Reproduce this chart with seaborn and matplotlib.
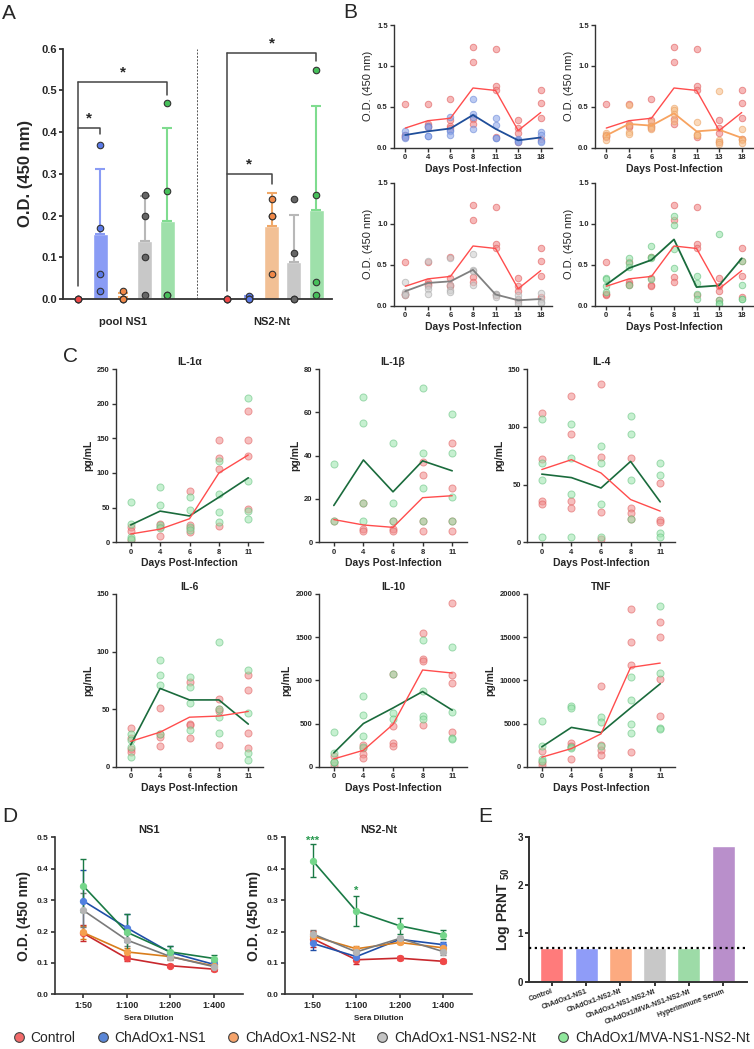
import numpy as np
import pandas as pd
import matplotlib
matplotlib.use('Agg')
import matplotlib.pyplot as plt
from matplotlib.lines import Line2D
import seaborn as sns

sns.set_style('ticks')
plt.rcParams['font.family'] = ['Liberation Sans', 'DejaVu Sans']
plt.rcParams['mathtext.default'] = 'regular'

W, H = 754, 1049

# ---------------- data: panel A (ELISA per antigen, individual mice) ----------------
a_groups = ['pool NS1', 'NS2-Nt']
a_pool_ns1 = [[0, 0, 0, 0], [0.37, 0.17, 0.06, 0.02], [0.02, 0, 0, 0],
              [0.25, 0.20, 0.10, 0.01], [0.47, 0.26, 0.01, 0.01]]
a_ns2_nt = [[0, 0, 0, 0], [0.008, 0, 0, 0], [0.24, 0.20, 0.20, 0.06],
            [0.24, 0.11, 0, 0], [0.55, 0.25, 0.04, 0.01]]
# (group, target bar, bracket height, drop end)
a_sig = [(0, 1, 0.41, 0.395), (0, 4, 0.52, 0.49), (1, 2, 0.30, 0.275), (1, 4, 0.59, 0.57)]

# ---------------- data: panel B (kinetics) ----------------
b_days = ['0', '4', '6', '8', '11', '13', '18']
b_control = [[0.53, 0.15, 0.14, 0.13], [0.53, 0.29, 0.27, 0.25], [0.60, 0.34, 0.26, 0.24],
             [1.23, 1.05, 0.35, 0.29], [1.21, 0.75, 0.70, 0.13], [0.34, 0.24, 0.18, 0.07],
             [0.70, 0.55, 0.36, 0.11]]
b_control_mean = [0.24, 0.33, 0.36, 0.73, 0.70, 0.21, 0.43]
b_ns1 = [[0.21, 0.16, 0.13, 0.12], [0.27, 0.25, 0.14, 0.14], [0.37, 0.22, 0.20, 0.15],
         [0.60, 0.41, 0.38, 0.23], [0.36, 0.28, 0.12, 0.12], [0.11, 0.09, 0.08, 0.07],
         [0.19, 0.16, 0.08, 0.07]]
b_ns1_mean = [0.155, 0.20, 0.235, 0.40, 0.23, 0.09, 0.125]
b_ns2 = [[0.18, 0.16, 0.14, 0.10], [0.52, 0.28, 0.19, 0.17], [0.31, 0.27, 0.25, 0.23],
         [0.49, 0.46, 0.41, 0.33], [0.31, 0.17, 0.16, 0.15], [0.69, 0.10, 0.07, 0.05],
         [0.23, 0.11, 0.09, 0.06]]
b_ns2_mean = [0.15, 0.29, 0.27, 0.42, 0.20, 0.22, 0.12]
b_ns12 = [[0.29, 0.17, 0.15, 0.13], [0.55, 0.24, 0.21, 0.14], [0.58, 0.25, 0.20, 0.17],
          [0.63, 0.44, 0.43, 0.26], [0.15, 0.14, 0.13, 0.11], [0.13, 0.08, 0.05, 0.03],
          [0.16, 0.09, 0.05, 0.04]]
b_ns12_mean = [0.18, 0.28, 0.30, 0.44, 0.14, 0.07, 0.085]
b_mva = [[0.34, 0.33, 0.24, 0.17], [0.59, 0.52, 0.47, 0.25], [0.73, 0.60, 0.58, 0.33],
         [1.09, 0.99, 0.69, 0.46], [0.36, 0.28, 0.15, 0.09], [0.87, 0.07, 0.04, 0.03],
         [0.55, 0.25, 0.09, 0.08]]
b_mva_mean = [0.26, 0.46, 0.56, 0.81, 0.23, 0.25, 0.58]

# ---------------- data: panel C (cytokines, control vs MVA) ----------------
c_days = ['0', '4', '6', '8', '11']
c_names = ['IL-1α', 'IL-1β', 'IL-4', 'IL-6', 'IL-10', 'TNF']
c_ymax = [250, 80, 150, 150, 2000, 20000]
c_ystep = [50, 20, 50, 50, 500, 5000]
c_red = [
    [[22, 17, 3], [26, 22, 9], [74, 25, 20, 15], [147, 121, 106, 23], [189, 148, 125, 48]],
    [[10], [18, 6, 5], [10, 6, 5], [37, 31, 10, 5], [46, 25, 10, 5]],
    [[112, 72, 36, 33], [127, 94, 36, 30], [137, 74, 26, 3], [73, 30, 25, 20], [51, 19, 18]],
    [[34, 25, 15, 13], [51, 28, 26, 18], [74, 37, 36, 25], [59, 50, 48, 19], [80, 67, 29, 16]],
    [[120, 50, 20], [250, 220, 150, 100], [1070, 470, 280, 240], [1550, 1250, 1220, 480],
     [1890, 1060, 970, 400]],
    [[1800, 500, 200], [2700, 2400, 900], [9400, 2500, 1900, 1400], [18300, 14400, 11800, 1700],
     [16800, 15000, 10200, 5900]],
]
c_red_mean = [[12, 19, 34, 100, 126], [10.5, 8, 6.9, 20.6, 21.5], [63, 71.5, 60, 37, 27],
              [22, 30, 43, 44, 48], [90, 190, 490, 1120, 1085], [1100, 2100, 3800, 11500, 12000]]
c_green = [
    [[58, 27, 8, 5], [80, 54, 25, 20], [65, 47, 22, 18], [118, 70, 43, 29], [208, 88, 45, 34]],
    [[36, 10], [67, 55, 18, 10], [46, 18, 10], [71, 41, 25, 10], [59, 41, 21, 10]],
    [[107, 69, 54, 5], [102, 73, 42, 5], [83, 69, 33, 5], [109, 94, 54, 20], [69, 58, 8, 5]],
    [[28, 23, 17, 8], [93, 80, 71, 28], [78, 69, 55, 32], [108, 50, 43, 29], [84, 47, 12, 6]],
    [[400, 160, 60, 50], [820, 600, 350, 230], [1070, 620, 550], [1470, 880, 590, 550],
     [1390, 630, 330, 320]],
    [[5250, 2400, 900, 700], [7000, 6800, 2300, 2200], [5800, 5200, 2400],
     [10400, 7700, 5000, 3900], [18600, 10800, 4500, 4400]],
]
c_green_mean = [[25, 45, 38, 65, 93], [17, 38, 23.3, 37.6, 33], [59, 56, 47, 70, 35],
                [19, 68, 58, 58, 37], [160, 500, 680, 870, 655], [2300, 4550, 3950, 6800, 9600]]

# ---------------- data: panel D (sera dilution) ----------------
d_dilutions = ['1:50', '1:100', '1:200', '1:400']
d_ns1_mean = {'Control': [0.195, 0.115, 0.091, 0.080], 'NS1': [0.298, 0.212, 0.133, 0.095],
              'NS2': [0.197, 0.135, 0.120, 0.090], 'NS12': [0.268, 0.173, 0.120, 0.088],
              'MVA': [0.346, 0.198, 0.135, 0.114]}
d_ns1_err = {'Control': [0.025, 0.010, 0.004, 0.005], 'NS1': [0.097, 0.044, 0.022, 0.010],
             'NS2': [0.022, 0.012, 0.006, 0.006], 'NS12': [0.055, 0.020, 0.010, 0.010],
             'MVA': [0.085, 0.058, 0.018, 0.012]}
d_ns2_mean = {'Control': [0.177, 0.110, 0.115, 0.105], 'NS1': [0.162, 0.120, 0.175, 0.158],
              'NS2': [0.185, 0.145, 0.165, 0.148], 'NS12': [0.192, 0.135, 0.178, 0.136],
              'MVA': [0.425, 0.265, 0.218, 0.190]}
d_ns2_err = {'Control': [0.025, 0.015, 0.006, 0.006], 'NS1': [0.020, 0.010, 0.006, 0.010],
             'NS2': [0.015, 0.010, 0.006, 0.008], 'NS12': [0.012, 0.010, 0.006, 0.010],
             'MVA': [0.053, 0.048, 0.025, 0.015]}

# ---------------- data: panel E (PRNT) ----------------
e_labels = ['Control', 'ChAdOx1-NS1', 'ChAdOx1-NS2-Nt', 'ChAdOx1-NS1-NS2-Nt',
            'ChAdOx1/MVA-NS1-NS2-Nt', 'Hyperimmune Serum']
e_values = [0.69, 0.69, 0.69, 0.69, 0.69, 2.80]
e_limit = 0.69

legend_labels = ['Control', 'ChAdOx1-NS1', 'ChAdOx1-NS2-Nt', 'ChAdOx1-NS1-NS2-Nt',
                 'ChAdOx1/MVA-NS1-NS2-Nt']

# ---------------- colours ----------------
a_bar_col = ['#f3a0a0', '#8a9cf5', '#f2c095', '#c8c8c8', '#9ee0aa']
a_err_col = ['#f3a0a0', '#8a9cf5', '#f0a868', '#b8b8b8', '#7fdc8f']
a_pt_col = ['#f04848', '#5a7ae8', '#f08848', '#666666', '#46c05a']
scat = {'Control': ('#f08a8a', '#e05a5a', '#ff4d4d'),
        'NS1': ('#8fa8ea', '#6a88d8', '#1f4e9a'),
        'NS2': ('#f7c08c', '#eaa060', '#f7a360'),
        'NS12': ('#cfcfcf', '#aaaaaa', '#808080'),
        'MVA': ('#98e4aa', '#62c07c', '#1a6b3c')}
d_col = {'Control': ('#c8282d', '#f04848'), 'NS1': ('#1f4fa8', '#5080e0'),
         'NS2': ('#d97d1c', '#f5a04e'), 'NS12': ('#7a7a7a', '#b5b5b5'),
         'MVA': ('#1a7a45', '#74d68a')}
e_col = ['#ff7b7b', '#8f9cf8', '#fcaa80', '#c8c8c8', '#9ddba7', '#b98fcb']
leg_col = ['#f26a6a', '#5a86d6', '#f5a36a', '#c4c4c4', '#8fe79c']


def rect(x0, y0, x1, y1):
    return [x0 / W, 1 - y1 / H, (x1 - x0) / W, (y1 - y0) / H]


def style(ax, lw=1.0, color='#333333', size=5.5):
    sns.despine(ax=ax)
    for s in ['left', 'bottom']:
        ax.spines[s].set_linewidth(lw)
        ax.spines[s].set_color(color)
    ax.tick_params(width=lw, color=color, length=3, pad=1.5, labelsize=size)
    for t in ax.get_xticklabels() + ax.get_yticklabels():
        t.set_fontweight('bold')


def long_df(points):
    rows = [(i, v) for i, vals in enumerate(points) for v in vals]
    return pd.DataFrame(rows, columns=['pos', 'value'])


fig = plt.figure(figsize=(W / 100, H / 100), dpi=100)

# ================= Panel A =================
ax = fig.add_axes(rect(63, 48.7, 332, 299))
gap = 6.68
for g, data in enumerate([a_pool_ns1, a_ns2_nt]):
    for i, vals in enumerate(data):
        x = i + g * gap
        m, sd = np.mean(vals), np.std(vals, ddof=1)
        ax.bar(x, m, width=0.67, color=a_bar_col[i], zorder=1)
        if m > 0.001:
            ax.errorbar(x, m, yerr=[[0], [sd]], fmt='none', ecolor=a_err_col[i],
                        capsize=3.5, elinewidth=1.5, capthick=1.5, zorder=2)
        df = pd.DataFrame({'x': [x] * len(vals), 'y': vals})
        sns.scatterplot(data=df, x='x', y='y', ax=ax, color=a_pt_col[i], s=22,
                        edgecolor='#333333', linewidth=0.8, zorder=3, clip_on=False, legend=False)
for g, tgt, h, drop in a_sig:
    x0, x1 = g * gap, tgt + g * gap
    ax.plot([x0, x1, x1], [h, h, drop], color='#444444', lw=1.1)
    ax.text((x0 + x1) / 2, h + 0.022, '*', ha='center', va='center', fontsize=11, fontweight='bold')
for g in range(2):
    top = max(h for gg, _, h, _ in a_sig if gg == g)
    ax.plot([g * gap, g * gap], [0.03 if g == 0 else 0.02, top], color='#444444', lw=1.1)
ax.axvline((4 + gap) / 2, color='#555555', ls=(0, (2, 1.5)), lw=0.7)
ax.set_xlim(-0.67, 11.39)
ax.set_ylim(0, 0.6)
ax.set_yticks(np.arange(0, 0.61, 0.1))
ax.set_yticklabels([f'{v:.1f}' for v in np.arange(0, 0.61, 0.1)])
ax.set_xticks([2, 2 + gap])
ax.set_xticklabels(a_groups)
ax.set_xlabel('')
ax.set_ylabel('O.D. (450 nm)', fontsize=12, fontweight='bold', labelpad=6)
style(ax, lw=1.3, size=8)
ax.tick_params(axis='x', length=0, pad=13, labelsize=8)

# ================= Panel B =================
b_rects = [rect(394, 25, 552, 147.7), rect(595, 25, 753, 147.7),
           rect(394, 182.7, 552, 306), rect(595, 182.7, 753, 306)]
b_sets = [('NS1', b_ns1, b_ns1_mean), ('NS2', b_ns2, b_ns2_mean),
          ('NS12', b_ns12, b_ns12_mean), ('MVA', b_mva, b_mva_mean)]
for r, (key, pts, mean) in zip(b_rects, b_sets):
    ax = fig.add_axes(r)
    for k, p in [('Control', b_control), (key, pts)]:
        face, edge, _ = scat[k]
        sns.scatterplot(data=long_df(p), x='pos', y='value', ax=ax, color=face, edgecolor=edge,
                        alpha=0.6, s=22, linewidth=0.7, legend=False, zorder=2)
    pos = list(range(len(b_days)))
    sns.lineplot(x=pos, y=mean, ax=ax, color=scat[key][2], lw=1.3, zorder=3)
    sns.lineplot(x=pos, y=b_control_mean, ax=ax, color=scat['Control'][2], lw=1.0, zorder=4)
    ax.set_xlim(-0.5, 6.5)
    ax.set_ylim(0, 1.5)
    ax.set_xticks(pos)
    ax.set_xticklabels(b_days)
    ax.set_yticks([0, 0.5, 1.0, 1.5])
    ax.set_yticklabels(['0.0', '0.5', '1.0', '1.5'])
    ax.set_xlabel('Days Post-Infection', fontsize=7.5, fontweight='bold', labelpad=2)
    ax.set_ylabel('O.D. (450 nm)', fontsize=8, labelpad=3)
    style(ax, lw=1.0, size=5.5)

# ================= Panel C =================
c_cols = [(116, 263), (319, 467), (527, 675)]
c_rows = [(369, 542.3), (594, 766.7)]
for n in range(6):
    x0, x1 = c_cols[n % 3]
    y0, y1 = c_rows[n // 3]
    ax = fig.add_axes(rect(x0, y0, x1, y1))
    for key, pts in [('Control', c_red[n]), ('MVA', c_green[n])]:
        face, edge, _ = scat[key]
        sns.scatterplot(data=long_df(pts), x='pos', y='value', ax=ax, color=face, edgecolor=edge,
                        alpha=0.55, s=26, linewidth=0.7, legend=False, zorder=2)
    pos = list(range(len(c_days)))
    sns.lineplot(x=pos, y=c_green_mean[n], ax=ax, color=scat['MVA'][2], lw=1.2, zorder=3)
    sns.lineplot(x=pos, y=c_red_mean[n], ax=ax, color=scat['Control'][2], lw=1.0, zorder=4)
    ax.set_xlim(-0.5, 4.5)
    ax.set_ylim(0, c_ymax[n])
    ax.set_yticks(np.arange(0, c_ymax[n] + 1, c_ystep[n]))
    ax.set_xticks(pos)
    ax.set_xticklabels(c_days)
    ax.set_title(c_names[n], fontsize=7.5, fontweight='bold', pad=3)
    ax.set_xlabel('Days Post-Infection', fontsize=7.5, fontweight='bold', labelpad=2)
    ax.set_ylabel('pg/mL', fontsize=7.5, fontweight='bold', labelpad=3)
    style(ax, lw=1.0, size=5.5)

# ================= Panel D =================
d_specs = [('NS1', rect(55, 837.3, 243, 994.3), d_ns1_mean, d_ns1_err),
           ('NS2-Nt', rect(285, 837.3, 472, 994.3), d_ns2_mean, d_ns2_err)]
for title, r, means, errs in d_specs:
    ax = fig.add_axes(r)
    pos = list(range(len(d_dilutions)))
    for key in ['Control', 'NS1', 'NS2', 'NS12', 'MVA']:
        lc, mc = d_col[key]
        ax.errorbar(pos, means[key], yerr=errs[key], fmt='none', ecolor=lc, capsize=2.5,
                    elinewidth=1.0, capthick=1.0, zorder=2)
        sns.lineplot(x=pos, y=means[key], ax=ax, color=lc, lw=1.2, marker='o', markersize=4.5,
                     markerfacecolor=mc, markeredgecolor=mc, zorder=3)
    if title == 'NS2-Nt':
        ax.text(0, 0.488, '***', ha='center', va='center', color='#2a9a50', fontsize=8,
                fontweight='bold')
        ax.text(1, 0.328, '*', ha='center', va='center', color='#2a9a50', fontsize=8,
                fontweight='bold')
    ax.set_xlim(-0.64, 3.66)
    ax.set_ylim(0, 0.5)
    ax.set_yticks(np.arange(0, 0.51, 0.1))
    ax.set_yticklabels([f'{v:.1f}' for v in np.arange(0, 0.51, 0.1)])
    ax.set_xticks(pos)
    ax.set_xticklabels(d_dilutions)
    ax.set_title(title, fontsize=8, fontweight='bold', pad=3)
    ax.set_xlabel('Sera Dilution', fontsize=5.8, fontweight='bold', labelpad=4)
    ax.set_ylabel('O.D. (450 nm)', fontsize=10, fontweight='bold', labelpad=4)
    style(ax, lw=1.2, size=6.5)
    ax.tick_params(axis='y', labelsize=6)

# ================= Panel E =================
ax = fig.add_axes(rect(529, 836.7, 747, 981.7))
sns.barplot(x=e_labels, y=e_values, hue=e_labels, palette=e_col, legend=False,
            width=0.67, ax=ax, saturation=1)
ax.axhline(e_limit, color='black', ls=(0, (1, 1.6)), lw=1.6, zorder=5)
ax.set_xlim(-0.67, 5.7)
ax.set_ylim(0, 3)
ax.set_yticks([0, 1, 2, 3])
ax.set_ylabel('Log PRNT $_{50}$', fontsize=10, fontweight='bold', labelpad=4)
style(ax, lw=1.4, size=7)
ax.set_xticks(range(len(e_labels)))
ax.set_xticklabels(e_labels, rotation=20, ha='right', rotation_mode='anchor',
                   fontsize=5, fontweight='bold')

# ================= panel letters and legend =================
for letter, x, y in [('A', 2, 19), ('B', 343, 18), ('C', 63, 362), ('D', 2, 822), ('E', 478, 822)]:
    fig.text(x / W, 1 - y / H, letter, fontsize=15, va='baseline')

handles = [Line2D([], [], marker='o', ls='', markerfacecolor=c, markeredgecolor='#444444',
                  markeredgewidth=0.8, markersize=7) for c in leg_col]
fig.legend(handles, legend_labels, loc='center', bbox_to_anchor=(0.505, 1 - 1038 / H), ncol=5,
           frameon=False, fontsize=10, handletextpad=0.35, columnspacing=1.45, handlelength=1)

fig.savefig('out.png', dpi=100)
